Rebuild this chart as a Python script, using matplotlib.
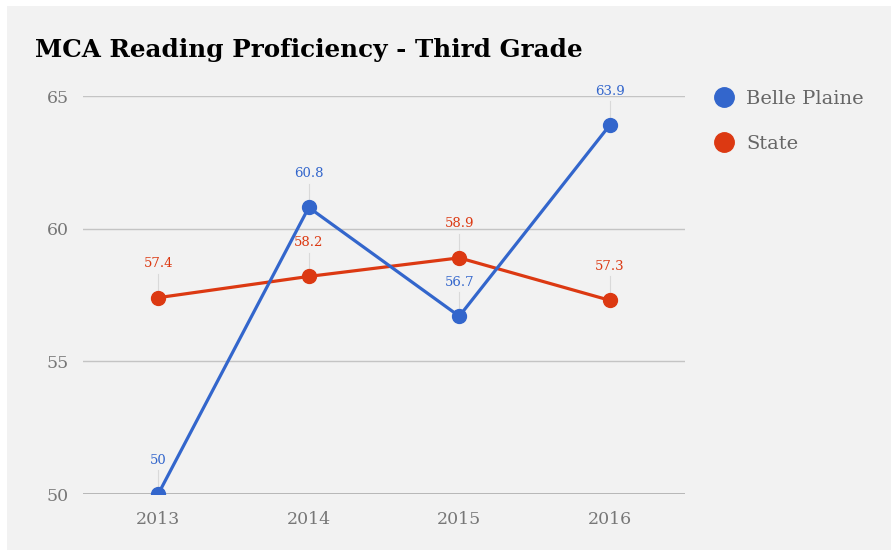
import matplotlib.pyplot as plt
from matplotlib.lines import Line2D
from matplotlib.patches import Rectangle

years = ['2013', '2014', '2015', '2016']
belle_plaine = [50, 60.8, 56.7, 63.9]
state = [57.4, 58.2, 58.9, 57.3]
yticks = [50, 55, 60, 65]

blue = '#3366cc'
red = '#dc3912'
font = 'DejaVu Serif'

fig = plt.figure(figsize=(8.91, 5.52), dpi=100, facecolor='white')
# grey panel behind the chart
fig.patches.append(Rectangle((7 / 891, 0.003), 1, 1 - 6 / 552 - 0.003,
                             transform=fig.transFigure, facecolor='#f2f2f2',
                             edgecolor='none', zorder=-10))

ax = fig.add_axes([83 / 891, 1 - 494 / 552, 602 / 891, 398 / 552])
ax.set_facecolor('none')

x = list(range(len(years)))

# stems from labels down to points
for vals, col in [(belle_plaine, blue), (state, red)]:
    for xi, v in zip(x, vals):
        ax.plot([xi, xi], [v, v + 0.9], color='#d9d9d9', lw=0.8, zorder=1, clip_on=False)

ax.plot(x, belle_plaine, color=blue, lw=2.3, marker='o', ms=10, zorder=4)
ax.plot(x, state, color=red, lw=2.3, marker='o', ms=10, zorder=3)

for vals, col in [(belle_plaine, blue), (state, red)]:
    for xi, v in zip(x, vals):
        ax.text(xi, v + 1.28, '%g' % v, color=col, ha='center', va='center',
                fontsize=9.5, family=font, zorder=5)

ax.set_xlim(-0.5, 3.5)
ax.set_ylim(50, 65)
ax.set_yticks(yticks)
ax.set_xticks(x)
ax.set_xticklabels(years)
for spine in ax.spines.values():
    spine.set_visible(False)
ax.grid(axis='y', color='#c4c4c4', lw=1)
ax.set_axisbelow(True)
ax.axhline(50, color='#aaaaaa', lw=1.2, zorder=0.5)
ax.tick_params(length=0, labelcolor='#777777', labelsize=12.5)
ax.tick_params(axis='y', pad=10)
ax.tick_params(axis='x', pad=12)
for lab in ax.get_xticklabels() + ax.get_yticklabels():
    lab.set_family(font)

fig.text(35 / 891, 1 - 50 / 552, 'MCA Reading Proficiency - Third Grade',
         fontsize=17.7, fontweight='bold', family=font, va='center', ha='left',
         color='black')

handles = [Line2D([], [], color=blue, marker='o', ls='none', ms=14),
           Line2D([], [], color=red, marker='o', ls='none', ms=14)]
leg = ax.legend(handles, ['Belle Plaine', 'State'], loc='upper left',
                bbox_to_anchor=(1.003, 1.06), frameon=False, handletextpad=0.15,
                labelspacing=1.42, prop={'family': font, 'size': 14})
for t in leg.get_texts():
    t.set_color('#666666')

fig.savefig('out.png', dpi=100, facecolor=fig.get_facecolor())
